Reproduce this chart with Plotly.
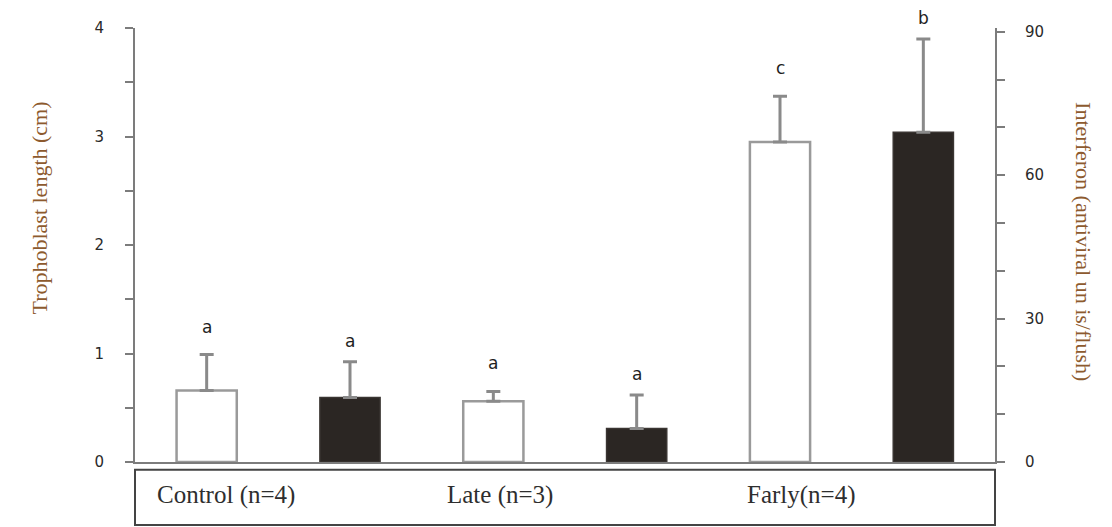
import plotly.graph_objects as go

# ---- data ----
bar_slots = ["Control-L", "Control-IFN", "Late-L", "Late-IFN", "Early-L", "Early-IFN"]
length_slots = ["Control-L", "Late-L", "Early-L"]
ifn_slots = ["Control-IFN", "Late-IFN", "Early-IFN"]
trophoblast_length = [0.66, 0.56, 2.95]      # cm, left axis
trophoblast_err = [0.33, 0.09, 0.42]
interferon = [13.5, 7.0, 69.0]               # antiviral units/flush, right axis
interferon_err = [7.5, 7.0, 19.5]
length_letters = ["a", "a", "c"]
ifn_letters = ["a", "a", "b"]
group_labels = ["Control (n=4)", "Late (n=3)", "Farly(n=4)"]
left_ticks = [0, 1, 2, 3, 4]
right_ticks = [0, 30, 60, 90]

axis_grey = "#7c7c7c"
title_col = "#8d5a2e"
tick_font = dict(family="DejaVu Sans", size=15, color="#2a2a2a")
letter_font = dict(family="DejaVu Sans", size=17, color="#1e1e1e")

fig = go.Figure()
fig.add_trace(go.Bar(
    x=length_slots, y=trophoblast_length, yaxis="y",
    marker=dict(color="white", line=dict(color="#9a9a9a", width=2.5)),
    error_y=dict(type="data", array=trophoblast_err, symmetric=False,
                 arrayminus=[0, 0, 0], color="#8a8a8a", thickness=3, width=7),
    showlegend=False, hoverinfo="skip"))
fig.add_trace(go.Bar(
    x=ifn_slots, y=interferon, yaxis="y2",
    marker=dict(color="#2b2623", line=dict(color="#3a3532", width=1.5)),
    error_y=dict(type="data", array=interferon_err, symmetric=False,
                 arrayminus=[0, 0, 0], color="#8a8a8a", thickness=3, width=7),
    showlegend=False, hoverinfo="skip"))

annotations = []
for s, v, e, t in zip(length_slots, trophoblast_length, trophoblast_err, length_letters):
    annotations.append(dict(x=s, y=v + e, xref="x", yref="y", text=t, showarrow=False,
                            yshift=28, font=letter_font))
for s, v, e, t in zip(ifn_slots, interferon, interferon_err, ifn_letters):
    annotations.append(dict(x=s, y=v + e, xref="x", yref="y2", text=t, showarrow=False,
                            yshift=21, font=letter_font))

label_x = [0.023, 0.36, 0.709]
for lx, lab in zip(label_x, group_labels):
    annotations.append(dict(x=lx, y=-0.076, xref="paper", yref="paper", text=lab,
                            showarrow=False, xanchor="left", yanchor="middle",
                            font=dict(family="Liberation Serif", size=25, color="#2e2e2e")))

annotations.append(dict(x=-0.128, y=0.585, xref="paper", yref="paper",
                        text="Trophoblast length (cm)", textangle=-90, showarrow=False,
                        font=dict(family="Liberation Serif", size=22, color=title_col)))
annotations.append(dict(x=1.119, y=0.507, xref="paper", yref="paper",
                        text="Interferon (antiviral un is/flush)", textangle=90, showarrow=False,
                        font=dict(family="Liberation Serif", size=22, color=title_col)))

# the page body adds an 8px offset; compensate so the plot sits where the reference has it
fig.update_layout(
    width=1104, height=519,
    margin=dict(l=127, r=117, t=20, b=65),
    paper_bgcolor="white", plot_bgcolor="white",
    bargap=0.58,
    xaxis=dict(type="category", categoryorder="array", categoryarray=bar_slots,
               showticklabels=False, ticks="", showgrid=False, zeroline=False,
               showline=True, linecolor=axis_grey, linewidth=2),
    yaxis=dict(range=[0, 4], tickvals=left_ticks, ticks="outside", ticklen=8,
               tickcolor=axis_grey, tickwidth=2, showgrid=False, zeroline=False,
               showline=True, linecolor=axis_grey, linewidth=2,
               tickfont=tick_font, ticklabelstandoff=18,
               minor=dict(dtick=0.5, ticks="outside", ticklen=8, tickcolor=axis_grey, tickwidth=2)),
    yaxis2=dict(range=[0, 90.8], overlaying="y", side="right", tickvals=right_ticks,
                ticks="outside", ticklen=8, tickcolor=axis_grey, tickwidth=2,
                showgrid=False, zeroline=False, showline=True, linecolor=axis_grey, linewidth=2,
                tickfont=tick_font, ticklabelstandoff=17,
                minor=dict(dtick=10, ticks="outside", ticklen=8, tickcolor=axis_grey, tickwidth=2)),
    shapes=[dict(type="rect", xref="paper", yref="paper", x0=0, x1=1.0, y0=-0.145, y1=-0.018,
                 line=dict(color="#444", width=2), fillcolor="rgba(0,0,0,0)")],
    annotations=annotations,
)

fig.write_html("out.html")
